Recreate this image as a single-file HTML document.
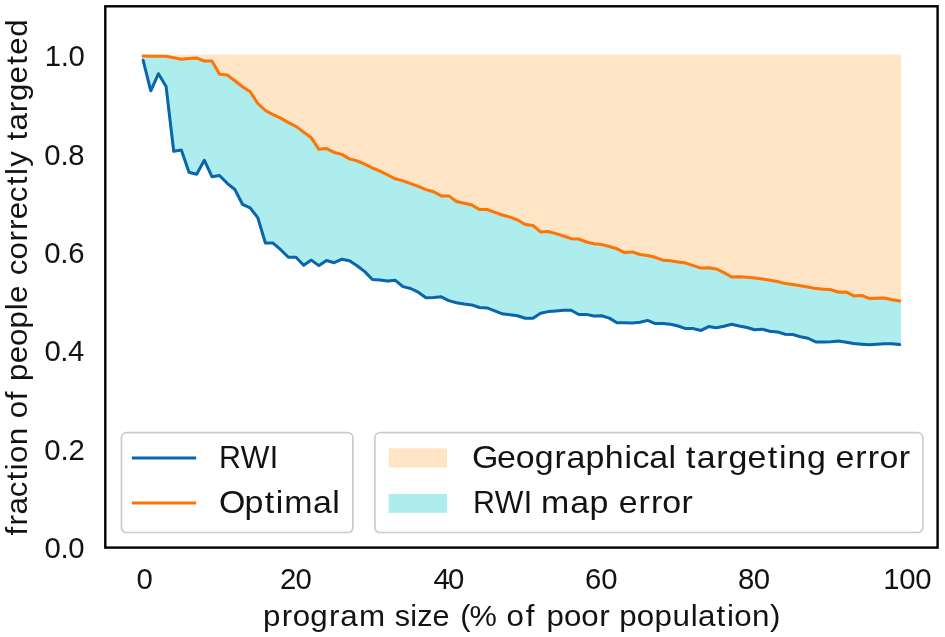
<!DOCTYPE html>
<html><head><meta charset="utf-8"><title>Targeting accuracy</title>
<style>
html,body{margin:0;padding:0;background:#fff;}
svg{display:block;}
text{font-family:"Liberation Sans",sans-serif;fill:#131313;}
</style></head><body>
<svg width="945" height="637" viewBox="0 0 945 637">
<rect x="0" y="0" width="945" height="637" fill="#ffffff"/>
<polygon points="143.15,56.0 899.76,56.0 899.76,301.00 892.12,299.70 884.47,298.05 876.83,298.20 869.19,298.40 861.54,295.50 853.90,295.90 846.26,292.10 838.62,292.30 830.98,289.80 823.33,289.15 815.69,288.60 808.05,287.00 800.40,285.70 792.76,284.60 785.12,283.60 777.48,281.50 769.84,280.20 762.19,278.90 754.55,278.05 746.91,277.30 739.26,276.65 731.62,277.00 723.98,272.60 716.34,269.00 708.69,267.75 701.05,268.10 693.41,265.60 685.77,263.05 678.12,262.05 670.48,260.75 662.84,260.20 655.20,257.30 647.56,255.50 639.91,254.50 632.27,251.95 624.63,252.60 616.99,248.80 609.34,246.50 601.70,244.60 594.06,243.70 586.41,242.00 578.77,239.00 571.13,238.70 563.49,236.00 555.85,233.60 548.20,231.50 540.56,231.90 532.92,225.50 525.27,224.50 517.63,220.00 509.99,217.10 502.35,215.00 494.71,212.40 487.06,209.50 479.42,209.50 471.78,205.00 464.13,203.20 456.49,201.50 448.85,195.90 441.21,195.90 433.57,191.70 425.92,189.60 418.28,186.40 410.64,183.60 403.00,180.90 395.35,178.80 387.71,175.00 380.07,171.10 372.43,168.00 364.78,164.15 357.14,160.90 349.50,158.90 341.86,154.40 334.21,152.45 326.57,148.60 318.93,149.30 311.28,137.80 303.64,132.10 296.00,126.40 288.36,122.60 280.72,118.10 273.07,114.60 265.43,110.50 257.79,103.50 250.15,91.80 242.50,86.70 234.86,80.70 227.22,75.00 219.57,74.30 211.93,61.00 204.29,61.00 196.65,58.05 189.00,58.40 181.36,59.30 173.72,57.80 166.08,56.30 158.44,56.30 150.79,56.30 143.15,56.10" fill="#ffe4c6" stroke="#ffe4c6" stroke-width="2.6" stroke-linejoin="miter"/>
<polygon points="143.15,56.10 150.79,56.30 158.44,56.30 166.08,56.30 173.72,57.80 181.36,59.30 189.00,58.40 196.65,58.05 204.29,61.00 211.93,61.00 219.57,74.30 227.22,75.00 234.86,80.70 242.50,86.70 250.15,91.80 257.79,103.50 265.43,110.50 273.07,114.60 280.72,118.10 288.36,122.60 296.00,126.40 303.64,132.10 311.28,137.80 318.93,149.30 326.57,148.60 334.21,152.45 341.86,154.40 349.50,158.90 357.14,160.90 364.78,164.15 372.43,168.00 380.07,171.10 387.71,175.00 395.35,178.80 403.00,180.90 410.64,183.60 418.28,186.40 425.92,189.60 433.57,191.70 441.21,195.90 448.85,195.90 456.49,201.50 464.13,203.20 471.78,205.00 479.42,209.50 487.06,209.50 494.71,212.40 502.35,215.00 509.99,217.10 517.63,220.00 525.27,224.50 532.92,225.50 540.56,231.90 548.20,231.50 555.85,233.60 563.49,236.00 571.13,238.70 578.77,239.00 586.41,242.00 594.06,243.70 601.70,244.60 609.34,246.50 616.99,248.80 624.63,252.60 632.27,251.95 639.91,254.50 647.56,255.50 655.20,257.30 662.84,260.20 670.48,260.75 678.12,262.05 685.77,263.05 693.41,265.60 701.05,268.10 708.69,267.75 716.34,269.00 723.98,272.60 731.62,277.00 739.26,276.65 746.91,277.30 754.55,278.05 762.19,278.90 769.84,280.20 777.48,281.50 785.12,283.60 792.76,284.60 800.40,285.70 808.05,287.00 815.69,288.60 823.33,289.15 830.98,289.80 838.62,292.30 846.26,292.10 853.90,295.90 861.54,295.50 869.19,298.40 876.83,298.20 884.47,298.05 892.12,299.70 899.76,301.00 899.76,344.60 892.12,343.80 884.47,343.80 876.83,344.20 869.19,344.80 861.54,344.20 853.90,343.60 846.26,342.30 838.62,341.00 830.98,341.65 823.33,341.90 815.69,341.90 808.05,338.25 800.40,336.80 792.76,334.50 785.12,334.20 777.48,331.90 769.84,331.30 762.19,329.15 754.55,329.70 746.91,327.50 739.26,326.00 731.62,324.30 723.98,326.20 716.34,327.75 708.69,326.60 701.05,330.45 693.41,328.60 685.77,328.60 678.12,326.00 670.48,324.20 662.84,323.60 655.20,323.60 647.56,320.40 639.91,322.30 632.27,323.00 624.63,322.80 616.99,322.80 609.34,318.10 601.70,315.80 594.06,316.00 586.41,314.40 578.77,314.50 571.13,310.30 563.49,310.30 555.85,310.90 548.20,311.60 540.56,313.20 532.92,318.30 525.27,318.30 517.63,315.80 509.99,314.70 502.35,313.85 494.71,310.90 487.06,307.90 479.42,307.50 471.78,304.90 464.13,304.00 456.49,302.80 448.85,300.60 441.21,296.80 433.57,297.40 425.92,297.70 418.28,292.20 410.64,288.50 403.00,286.60 395.35,280.30 387.71,281.10 380.07,280.00 372.43,279.50 364.78,271.60 357.14,265.80 349.50,260.80 341.86,259.20 334.21,262.70 326.57,260.50 318.93,265.60 311.28,260.10 303.64,265.20 296.00,257.30 288.36,257.30 280.72,249.70 273.07,243.05 265.43,243.05 257.79,217.70 250.15,207.80 242.50,204.30 234.86,189.50 227.22,183.30 219.57,175.50 211.93,176.70 204.29,160.20 196.65,174.20 189.00,172.30 181.36,150.00 173.72,151.30 166.08,86.40 158.44,73.70 150.79,90.80 143.15,60.30" fill="#aeeded" stroke="#aeeded" stroke-width="2.6" stroke-linejoin="round"/>
<polyline points="143.15,60.30 150.79,90.80 158.44,73.70 166.08,86.40 173.72,151.30 181.36,150.00 189.00,172.30 196.65,174.20 204.29,160.20 211.93,176.70 219.57,175.50 227.22,183.30 234.86,189.50 242.50,204.30 250.15,207.80 257.79,217.70 265.43,243.05 273.07,243.05 280.72,249.70 288.36,257.30 296.00,257.30 303.64,265.20 311.28,260.10 318.93,265.60 326.57,260.50 334.21,262.70 341.86,259.20 349.50,260.80 357.14,265.80 364.78,271.60 372.43,279.50 380.07,280.00 387.71,281.10 395.35,280.30 403.00,286.60 410.64,288.50 418.28,292.20 425.92,297.70 433.57,297.40 441.21,296.80 448.85,300.60 456.49,302.80 464.13,304.00 471.78,304.90 479.42,307.50 487.06,307.90 494.71,310.90 502.35,313.85 509.99,314.70 517.63,315.80 525.27,318.30 532.92,318.30 540.56,313.20 548.20,311.60 555.85,310.90 563.49,310.30 571.13,310.30 578.77,314.50 586.41,314.40 594.06,316.00 601.70,315.80 609.34,318.10 616.99,322.80 624.63,322.80 632.27,323.00 639.91,322.30 647.56,320.40 655.20,323.60 662.84,323.60 670.48,324.20 678.12,326.00 685.77,328.60 693.41,328.60 701.05,330.45 708.69,326.60 716.34,327.75 723.98,326.20 731.62,324.30 739.26,326.00 746.91,327.50 754.55,329.70 762.19,329.15 769.84,331.30 777.48,331.90 785.12,334.20 792.76,334.50 800.40,336.80 808.05,338.25 815.69,341.90 823.33,341.90 830.98,341.65 838.62,341.00 846.26,342.30 853.90,343.60 861.54,344.20 869.19,344.80 876.83,344.20 884.47,343.80 892.12,343.80 899.76,344.60" fill="none" stroke="#0a65ab" stroke-width="3.0" stroke-linejoin="round" stroke-linecap="round"/>
<polyline points="143.15,56.10 150.79,56.30 158.44,56.30 166.08,56.30 173.72,57.80 181.36,59.30 189.00,58.40 196.65,58.05 204.29,61.00 211.93,61.00 219.57,74.30 227.22,75.00 234.86,80.70 242.50,86.70 250.15,91.80 257.79,103.50 265.43,110.50 273.07,114.60 280.72,118.10 288.36,122.60 296.00,126.40 303.64,132.10 311.28,137.80 318.93,149.30 326.57,148.60 334.21,152.45 341.86,154.40 349.50,158.90 357.14,160.90 364.78,164.15 372.43,168.00 380.07,171.10 387.71,175.00 395.35,178.80 403.00,180.90 410.64,183.60 418.28,186.40 425.92,189.60 433.57,191.70 441.21,195.90 448.85,195.90 456.49,201.50 464.13,203.20 471.78,205.00 479.42,209.50 487.06,209.50 494.71,212.40 502.35,215.00 509.99,217.10 517.63,220.00 525.27,224.50 532.92,225.50 540.56,231.90 548.20,231.50 555.85,233.60 563.49,236.00 571.13,238.70 578.77,239.00 586.41,242.00 594.06,243.70 601.70,244.60 609.34,246.50 616.99,248.80 624.63,252.60 632.27,251.95 639.91,254.50 647.56,255.50 655.20,257.30 662.84,260.20 670.48,260.75 678.12,262.05 685.77,263.05 693.41,265.60 701.05,268.10 708.69,267.75 716.34,269.00 723.98,272.60 731.62,277.00 739.26,276.65 746.91,277.30 754.55,278.05 762.19,278.90 769.84,280.20 777.48,281.50 785.12,283.60 792.76,284.60 800.40,285.70 808.05,287.00 815.69,288.60 823.33,289.15 830.98,289.80 838.62,292.30 846.26,292.10 853.90,295.90 861.54,295.50 869.19,298.40 876.83,298.20 884.47,298.05 892.12,299.70 899.76,301.00" fill="none" stroke="#ff7402" stroke-width="3.0" stroke-linejoin="round" stroke-linecap="round"/>
<rect x="105.3" y="6.3" width="832.3" height="541.3" fill="none" stroke="#000" stroke-width="2.4"/>
<rect x="121.45" y="432.55" width="231.45" height="99.95" rx="5" ry="5" fill="#fff" fill-opacity="0.8" stroke="#cccccc" stroke-width="1.7"/>
<rect x="374.9" y="432.55" width="547.9" height="99.95" rx="5" ry="5" fill="#fff" fill-opacity="0.8" stroke="#cccccc" stroke-width="1.7"/>
<line x1="131.9" y1="457.95" x2="196.2" y2="457.95" stroke="#0a65ab" stroke-width="2.9"/>
<line x1="131.9" y1="503.05" x2="196.2" y2="503.05" stroke="#ff7402" stroke-width="2.9"/>
<rect x="388.6" y="448.3" width="58.4" height="19.2" fill="#ffe4c6"/>
<rect x="388.6" y="494.0" width="58.4" height="18.8" fill="#aeeded"/>

<g opacity="0.999">
<text transform="translate(219.34,467.8) scale(0.965,1)" x="-0.36 22.14 52.24" y="0" font-size="31.4">RWI</text>
<text transform="translate(220.37,513.3) scale(1.080,1)" x="-1.18 22.24 41.01 51.27 59.24 85.83 103.56" y="0" font-size="31.4">Optimal</text>
<text transform="translate(473.45,467.5) scale(1.080,1)" x="-1.26 21.88 39.23 56.85 75.14 86.12 103.75 121.69 139.82 147.16 162.72 180.55" y="0" font-size="31.4">Geographical</text>
<text transform="translate(684.59,467.5) scale(1.080,1)" x="1.25 11.25 29.40 40.60 58.23 77.01 87.47 95.26 113.41" y="0" font-size="31.4">targeting</text>
<text transform="translate(835.28,467.5) scale(1.080,1)" x="0.17 18.51 30.15 40.87 58.85" y="0" font-size="31.4">error</text>
<text transform="translate(473.20,513.2) scale(0.965,1)" x="-0.32 22.25 52.42" y="0" font-size="31.4">RWI</text>
<text transform="translate(540.12,513.2) scale(1.080,1)" x="0.84 27.87 45.70" y="0" font-size="31.4">map</text>
<text transform="translate(618.80,513.2) scale(1.080,1)" x="0.07 18.25 29.76 40.32 58.14" y="0" font-size="31.4">error</text>
<text transform="translate(262.61,625.8) scale(1.080,1)" x="0.43 17.67 27.83 44.22 61.45 71.92 89.15" y="0" font-size="29.0">program</text>
<text transform="translate(395.11,625.8) scale(1.056,1)" x="-0.32 14.33 20.97 35.31" y="0" font-size="29.0">size</text>
<text transform="translate(460.11,625.8) scale(1.062,1)" x="0.07 8.85" y="0" font-size="29.0">(%</text>
<text transform="translate(505.53,625.8) scale(1.080,1)" x="0.81 18.83" y="0" font-size="29.0">of</text>
<text transform="translate(546.33,625.8) scale(1.080,1)" x="0.22 16.48 32.45 49.03" y="0" font-size="29.0">poor</text>
<text transform="translate(618.90,625.8) scale(1.080,1)" x="0.26 16.62 32.97 49.62 66.42 73.26 90.48 100.08 106.91 123.25 139.92" y="0" font-size="29.0">population)</text>
<text transform="translate(27.0,536.00) rotate(-90) scale(1.080,1)" x="0.57 9.73 19.86 35.85 51.37 60.93 67.70 83.96" y="0" font-size="29.0">fraction</text>
<text transform="translate(27.0,418.17) rotate(-90) scale(1.080,1)" x="-0.06 16.59" y="0" font-size="29.0">of</text>
<text transform="translate(27.0,381.25) rotate(-90) scale(1.080,1)" x="0.24 16.59 32.64 48.94 65.72 72.56" y="0" font-size="29.0">people</text>
<text transform="translate(27.0,275.15) rotate(-90) scale(1.080,1)" x="0.00 14.51 31.25 41.86 51.65 67.54 83.19 92.84 100.28" y="0" font-size="29.0">correctly</text>
<text transform="translate(27.0,141.73) rotate(-90) scale(1.080,1)" x="1.16 10.43 27.23 37.61 53.93 71.30 80.60 97.15" y="0" font-size="29.0">targeted</text>
<text transform="translate(44.99,65.9) scale(1.000,1)" x="-0.24 15.69 23.47" y="0" font-size="29.3">1.0</text>
<text transform="translate(44.44,164.8) scale(1.000,1)" x="-0.14 15.95 23.89" y="0" font-size="29.3">0.8</text>
<text transform="translate(44.44,262.7) scale(1.000,1)" x="-0.17 15.87 23.76" y="0" font-size="29.3">0.6</text>
<text transform="translate(44.68,361.1) scale(1.000,1)" x="-0.31 15.53 23.21" y="0" font-size="29.3">0.4</text>
<text transform="translate(44.44,459.6) scale(1.000,1)" x="-0.12 16.00 23.97" y="0" font-size="29.3">0.2</text>
<text transform="translate(44.68,558.0) scale(1.000,1)" x="-0.23 15.73 23.53" y="0" font-size="29.3">0.0</text>
<text transform="translate(136.56,588.6) scale(1.000,1)" x="-0.06" y="0" font-size="29.3">0</text>
<text transform="translate(280.26,588.6) scale(1.000,1)" x="-0.37 15.20" y="0" font-size="29.3">20</text>
<text transform="translate(434.26,588.6) scale(1.000,1)" x="-0.85 13.73" y="0" font-size="29.3">40</text>
<text transform="translate(585.08,588.6) scale(1.000,1)" x="-0.02 16.24" y="0" font-size="29.3">60</text>
<text transform="translate(738.16,588.6) scale(1.000,1)" x="-0.27 15.48" y="0" font-size="29.3">80</text>
<text transform="translate(883.56,588.6) scale(1.000,1)" x="-0.19 15.73 31.65" y="0" font-size="29.3">100</text>
</g>
</svg></body></html>
